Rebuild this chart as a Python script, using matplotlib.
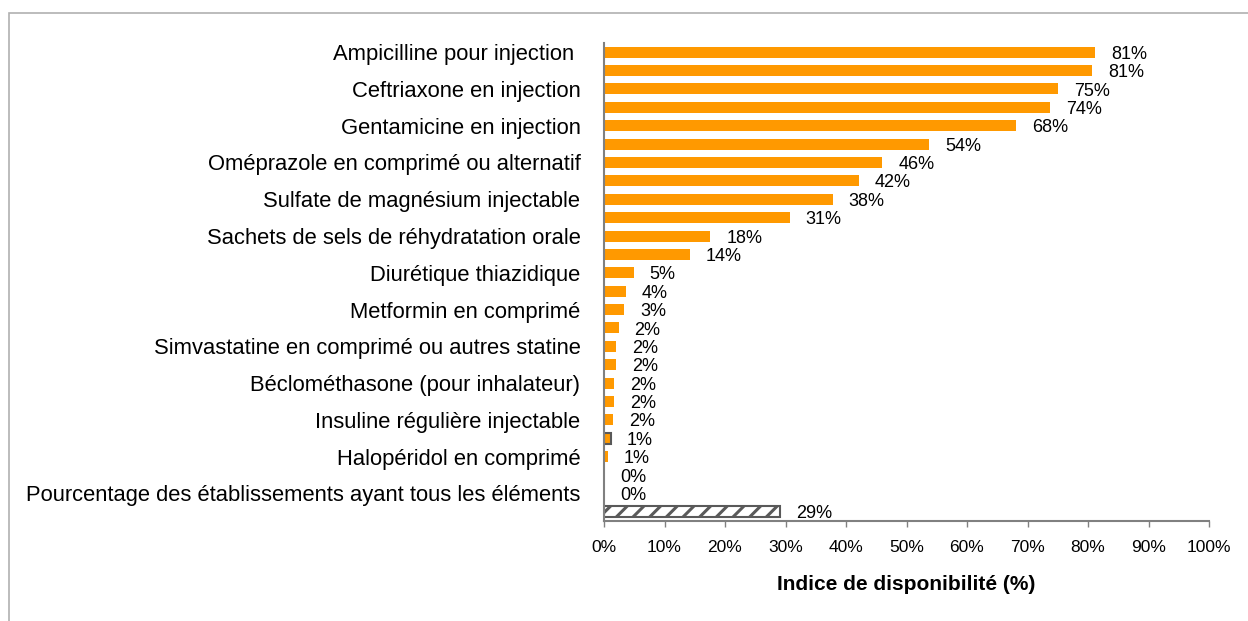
import numpy as np
import matplotlib
matplotlib.use("Agg")
import matplotlib.pyplot as plt
from matplotlib.patches import Rectangle

plt.rcParams['font.family'] = ['Liberation Sans', 'DejaVu Sans']
plt.rcParams['hatch.linewidth'] = 2.2
plt.rcParams['hatch.color'] = '#595959'

# category labels shown on the axis (every second bar carries a label, as in the original)
labels = [
    "Ampicilline pour injection ",
    "Ceftriaxone en injection",
    "Gentamicine en injection",
    "Oméprazole en comprimé ou alternatif",
    "Sulfate de magnésium injectable",
    "Sachets de sels de réhydratation orale",
    "Diurétique thiazidique",
    "Metformin en comprimé",
    "Simvastatine en comprimé ou autres statine",
    "Béclométhasone (pour inhalateur)",
    "Insuline régulière injectable",
    "Halopéridol en comprimé",
    "Pourcentage des établissements ayant tous les éléments",
]

# availability index (%) for the 26 bars, top to bottom
values = [81.2, 80.7, 75.1, 73.7, 68.1, 53.8, 46.0, 42.1, 37.8, 30.7,
          17.6, 14.2, 4.9, 3.6, 3.3, 2.4, 2.0, 1.95, 1.6, 1.6,
          1.55, 1.1, 0.6, 0.0, 0.0, 29.1]

xticks = [0, 10, 20, 30, 40, 50, 60, 70, 80, 90, 100]

orange = '#FF9900'
grey = '#808080'

fig = plt.figure(figsize=(12.48, 6.21), dpi=100)
ax = fig.add_axes([604 / 1248, 1 - 521 / 621, 605 / 1248, 478 / 621])

y = np.arange(len(values))
bars = ax.barh(y, values, height=0.6, color=orange, edgecolor='none')

# the 1% bar with the dark outline and the hatched "all items" bar
bars[21].set_edgecolor('#595959')
bars[21].set_linewidth(1.5)
bars[25].set_facecolor('white')
bars[25].set_edgecolor('#595959')
bars[25].set_linewidth(1.5)
bars[25].set_hatch('//')

for yi, v in zip(y, values):
    ax.annotate(f"{v:.0f}%", (v, yi), xytext=(11.5, -1.5), textcoords='offset points',
                ha='left', va='center', fontsize=13)

ax.set_xlim(0, 100)
ax.set_ylim(len(values) - 0.5, -0.5)
ax.set_xticks(xticks)
ax.set_xticklabels([f"{t}%" for t in xticks], fontsize=12.5)
ax.set_yticks(y[::2])
ax.set_yticklabels(labels, fontsize=15.8)

ax.tick_params(axis='y', length=0, pad=17)
ax.tick_params(axis='x', length=4, width=1, color=grey, direction='out', pad=10)

for side in ['top', 'right']:
    ax.spines[side].set_visible(False)
for side in ['left', 'bottom']:
    ax.spines[side].set_color(grey)
    ax.spines[side].set_linewidth(1.5)

ax.set_xlabel("Indice de disponibilité (%)", fontsize=15, fontweight='bold', labelpad=14)

# outer chart frame (only top and left edges are inside the picture)
fig.patches.append(Rectangle((9 / 1248, -0.2), 1.2, 1.2 - 13 / 621,
                             transform=fig.transFigure, fill=False,
                             edgecolor='#b0b0b0', linewidth=1.2))

fig.savefig('out.png', dpi=100)
